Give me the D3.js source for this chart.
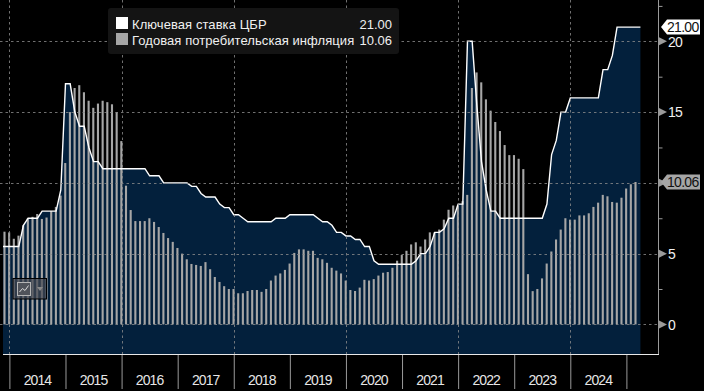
<!DOCTYPE html>
<html>
<head>
<meta charset="utf-8">
<script src="https://d3js.org/d3.v7.min.js"></script>
<style>
  html, body { margin: 0; padding: 0; background: #000; }
  svg { display: block; }
  text { font-family: "Liberation Sans", Arial, sans-serif; }
</style>
</head>
<body>
<svg id="chart" width="704" height="391"></svg>
<script>
// month index 0 = end of Dec 2013
const years = [2014, 2015, 2016, 2017, 2018, 2019, 2020, 2021, 2022, 2023, 2024];
const yTicks = [0, 5, 10, 15, 20];
const yMinorTicks = [2.5, 7.5, 12.5, 17.5, 22.5];

// key rate, month ends from Oct 2013 to Mar 2025
const rateStart = -2;
const keyRate = [5.5, 5.5, 5.5,
    5.5, 5.5, 7, 7.5, 7.5, 7.5, 8, 8, 8, 8, 9.5, 17,
    17, 15, 14, 14, 12.5, 11.5, 11.5, 11, 11, 11, 11, 11,
    11, 11, 11, 11, 11, 10.5, 10.5, 10.5, 10, 10, 10, 10,
    10, 10, 9.75, 9.75, 9.25, 9, 9, 9, 8.5, 8.25, 8.25, 7.75,
    7.75, 7.5, 7.25, 7.25, 7.25, 7.25, 7.25, 7.25, 7.5, 7.5, 7.5, 7.75,
    7.75, 7.75, 7.75, 7.75, 7.75, 7.5, 7.25, 7.25, 7, 6.5, 6.5, 6.25,
    6.25, 6, 6, 5.5, 5.5, 4.5, 4.25, 4.25, 4.25, 4.25, 4.25, 4.25,
    4.25, 4.25, 4.5, 5, 5, 5.5, 6.5, 6.5, 6.75, 7.5, 7.5, 8.5,
    8.5, 20, 20, 15.5, 11.5, 9.5, 8, 8, 7.5, 7.5, 7.5, 7.5,
    7.5, 7.5, 7.5, 7.5, 7.5, 7.5, 8.5, 12, 13, 15, 15, 16,
    16, 16, 16, 16, 16, 16, 18, 18, 19, 21, 21, 21,
    21, 21, 21];

// annual CPI, month ends from Nov 2013 to Feb 2025
const cpiStart = -1;
const inflation = [6.55, 6.5,
    6.05, 6.27, 7.0, 7.5, 7.6, 7.8, 7.45, 7.55, 8.0, 8.3, 9.1, 11.4,
    15.0, 16.7, 16.9, 16.4, 15.8, 15.3, 15.6, 15.8, 15.7, 15.55, 15.0, 12.95,
    9.8, 8.08, 7.3, 7.3, 7.3, 7.5, 7.24, 6.88, 6.46, 6.1, 5.83, 5.4,
    5.0, 4.6, 4.27, 4.2, 4.13, 4.4, 3.9, 3.35, 3.0, 2.7, 2.5, 2.5,
    2.2, 2.2, 2.36, 2.43, 2.43, 2.3, 2.5, 3.1, 3.45, 3.6, 3.85, 4.3,
    5.05, 5.3, 5.3, 5.2, 5.2, 4.7, 4.6, 4.35, 4.0, 3.8, 3.6, 3.1,
    2.43, 2.36, 2.6, 3.15, 3.1, 3.2, 3.45, 3.65, 3.7, 4.0, 4.5, 4.9,
    5.2, 5.65, 5.8, 5.5, 6.0, 6.5, 6.5, 6.7, 7.4, 8.1, 8.4, 8.4,
    8.7, 9.15, 16.7, 17.8, 17.1, 15.9, 15.1, 14.3, 13.66, 12.67, 11.96, 11.96,
    11.7, 10.97, 3.55, 2.35, 2.5, 3.25, 4.3, 5.15, 6.0, 6.7, 7.5, 7.4,
    7.4, 7.7, 7.7, 7.85, 8.3, 8.6, 9.15, 9.05, 8.65, 8.6, 8.95, 9.6,
    9.9, 10.06];

const legendLabels = ["Ключевая ставка ЦБР", "Годовая потребительская инфляция"];
const legendValues = ["21.00", "10.06"];
const legendColors = ["#ffffff", "#a6a6a6"];

let svg = d3.select("#chart"),
    plot = {left: 3, right: 659, top: 0, bottom: 354};

let x = d3.scaleLinear()
    .domain([0, 132])
    .range([9.4, 626.4]);
let y = d3.scaleLinear()
    .domain([0, 20])
    .range([324.4, 41.3]);

let rateData = keyRate.map((v, i) => ({m: rateStart + i, v: v}));
let cpiData = inflation.map((v, i) => ({m: cpiStart + i, v: v}));

svg.append("clipPath").attr("id", "plotClip")
    .append("rect")
    .attr("x", plot.left).attr("y", plot.top)
    .attr("width", plot.right - plot.left).attr("height", plot.bottom - plot.top);

let inner = svg.append("g").attr("clip-path", "url(#plotClip)");

// rate area down to the frame
inner.append("path")
    .datum(rateData)
    .attr("fill", "#03203c")
    .attr("d", d3.area().x(d => x(d.m)).y0(plot.bottom).y1(d => y(d.v)));

// inflation bars
inner.selectAll(".bar")
    .data(cpiData)
    .enter().append("rect")
    .attr("class", "bar")
    .attr("x", d => x(d.m) - 1.3)
    .attr("width", 2.1)
    .attr("y", d => y(d.v))
    .attr("height", d => y(0) - y(d.v))
    .attr("fill", "#a6a6a6");

// grid
let grid = svg.append("g")
    .attr("stroke", "#8c8c8c")
    .attr("stroke-width", 1)
    .attr("stroke-dasharray", "2.5,3")
    .attr("opacity", 0.8);
grid.selectAll(".h")
    .data(yTicks)
    .enter().append("line")
    .attr("x1", 0).attr("x2", plot.right)
    .attr("y1", d => Math.round(y(d)) + 0.5)
    .attr("y2", d => Math.round(y(d)) + 0.5);
grid.selectAll(".v")
    .data(years.filter(d => d % 2 == 0))
    .enter().append("line")
    .attr("x1", d => Math.round(x((d - 2014) * 12)) + 0.5)
    .attr("x2", d => Math.round(x((d - 2014) * 12)) + 0.5)
    .attr("y1", plot.top).attr("y2", plot.bottom);

inner.append("path")
    .datum(rateData)
    .attr("fill", "none")
    .attr("stroke", "#ffffff")
    .attr("stroke-width", 1.4)
    .attr("d", d3.line().x(d => x(d.m)).y(d => y(d.v)));

// bottom axis: ticks at year starts, labels between them
let xAxis = svg.append("g")
    .attr("transform", `translate(0,${plot.bottom})`)
    .call(d3.axisBottom(x)
        .tickValues(years.concat(2025).map(d => (d - 2014) * 12))
        .tickSize(35)
        .tickFormat(""));
xAxis.select(".domain").remove();
xAxis.selectAll("line").attr("stroke", "#9a9a9a");

svg.append("line")
    .attr("x1", plot.left).attr("x2", plot.right)
    .attr("y1", plot.bottom + 0.5).attr("y2", plot.bottom + 0.5)
    .attr("stroke", "#e8e8e8");

svg.selectAll(".year")
    .data(years)
    .enter().append("text")
    .attr("class", "year")
    .attr("x", d => x((d - 2014) * 12 + 6))
    .attr("y", 385)
    .attr("text-anchor", "middle")
    .attr("fill", "#e6e6e6")
    .attr("font-size", 14)
    .attr("letter-spacing", -0.9)
    .text(d => d);

// right axis
let yAxis = svg.append("g")
    .attr("transform", `translate(${plot.right - 0.5},0)`)
    .call(d3.axisRight(y)
        .tickValues(yMinorTicks)
        .tickSize(4)
        .tickFormat(""));
yAxis.select(".domain").remove();
yAxis.selectAll("line").attr("stroke", "#9a9a9a");

svg.append("line")
    .attr("x1", plot.right - 0.5).attr("x2", plot.right - 0.5)
    .attr("y1", 0).attr("y2", plot.bottom)
    .attr("stroke", "#9a9a9a");

svg.selectAll(".tri")
    .data(yTicks)
    .enter().append("path")
    .attr("class", "tri")
    .attr("transform", d => `translate(${plot.right},${y(d)})`)
    .attr("d", "M0,-4L8,0L0,4Z")
    .attr("fill", "#9a9a9a");

svg.selectAll(".ylabel")
    .data(yTicks.filter(d => d != 10))
    .enter().append("text")
    .attr("class", "ylabel")
    .attr("x", 668)
    .attr("y", d => y(d) + 5.4)
    .attr("fill", "#f0f0f0")
    .attr("font-size", 14)
    .attr("letter-spacing", -0.9)
    .text(d => d);

// last value tags
let tags = [
    {v: 21, text: legendValues[0], fill: "#ffffff"},
    {v: 10.06, text: legendValues[1], fill: "#a6a6a6"}
];
tags.forEach(t => {
    let ty = Math.round(y(t.v));
    svg.append("path")
        .attr("d", `M661,${ty}L667,${ty - 7.5}H700V${ty + 7.5}H667Z`)
        .attr("fill", t.fill);
    svg.append("text")
        .attr("x", 667)
        .attr("y", ty + 4.6)
        .attr("fill", "#111")
        .attr("font-size", 14)
        .attr("letter-spacing", -0.7)
        .text(t.text);
});

// legend
let legend = svg.append("g");
legend.append("rect")
    .attr("x", 108).attr("y", 8)
    .attr("width", 291).attr("height", 46)
    .attr("rx", 3)
    .attr("fill", "#141414");
legendLabels.forEach((label, i) => {
    let rowY = 17 + i * 16;
    legend.append("rect")
        .attr("x", 116).attr("y", rowY)
        .attr("width", 12).attr("height", 12)
        .attr("fill", legendColors[i]);
    legend.append("text")
        .attr("x", 132).attr("y", rowY + 11.5)
        .attr("fill", "#f0f0f0")
        .attr("font-size", 13)
        .attr("letter-spacing", 0.07)
        .text(label);
    legend.append("text")
        .attr("x", 392).attr("y", rowY + 11.5)
        .attr("text-anchor", "end")
        .attr("fill", "#f0f0f0")
        .attr("font-size", 13)
        .text(legendValues[i]);
});

// chart type widget
let widget = svg.append("g");
widget.append("rect")
    .attr("x", 13).attr("y", 278.5)
    .attr("width", 33.5).attr("height", 20.5)
    .attr("fill", "#444750").attr("fill-opacity", 0.7)
    .attr("stroke", "#000").attr("stroke-width", 1);
widget.append("rect")
    .attr("x", 17.5).attr("y", 282.5)
    .attr("width", 13).attr("height", 13)
    .attr("fill", "#50535a").attr("stroke", "#b5b5b5");
widget.append("path")
    .attr("d", "M19.5,292L22.5,288.5L25,290.5L28.5,285.5")
    .attr("fill", "none").attr("stroke", "#d8d8d8");
widget.append("path")
    .attr("d", "M37,287H43L40,291Z")
    .attr("fill", "#8a8a8a");
</script>
</body>
</html>
